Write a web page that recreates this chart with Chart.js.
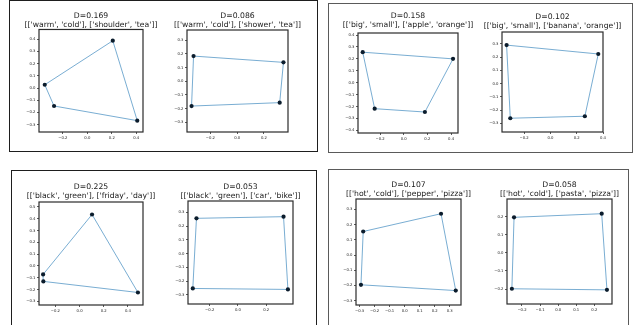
<!DOCTYPE html>
<html>
<head>
<meta charset="utf-8">
<script src="https://cdn.jsdelivr.net/npm/chart.js@4.4.0/dist/chart.umd.min.js"></script>
<style>
  html, body { margin: 0; padding: 0; background: #fff; }
  body { position: relative; width: 635px; height: 325px; overflow: hidden; }
  .box { position: absolute; box-sizing: border-box; border: 1.5px solid #1e1e1e; }
  .box.grey { border-color: #5a5a5a; }
  canvas { position: absolute; }
</style>
</head>
<body>
<div class="box" style="left:9px;top:0px;width:309px;height:152px"></div>
<div class="box grey" style="left:328px;top:3px;width:305px;height:150px"></div>
<div class="box" style="left:11px;top:170px;width:306px;height:170px"></div>
<div class="box grey" style="left:328px;top:169px;width:301px;height:170px"></div>
<script>
// titles
const dLabels = ['D=0.169', 'D=0.086', 'D=0.158', 'D=0.102', 'D=0.225', 'D=0.053', 'D=0.107', 'D=0.058'];
const wordSets = [
    "[['warm', 'cold'], ['shoulder', 'tea']]",
    "[['warm', 'cold'], ['shower', 'tea']]",
    "[['big', 'small'], ['apple', 'orange']]",
    "[['big', 'small'], ['banana', 'orange']]",
    "[['black', 'green'], ['friday', 'day']]",
    "[['black', 'green'], ['car', 'bike']]",
    "[['hot', 'cold'], ['pepper', 'pizza']]",
    "[['hot', 'cold'], ['pasta', 'pizza']]"
];

// points, in the order the polygon is drawn
const warmShoulderX = [0.208, 0.408, -0.272, -0.348];
const warmShoulderY = [0.388, -0.267, -0.147, 0.027];
const warmShowerX = [-0.326, 0.346, 0.318, -0.341];
const warmShowerY = [0.184, 0.138, -0.157, -0.182];
const bigAppleX = [-0.347, 0.417, 0.179, -0.246];
const bigAppleY = [0.256, 0.200, -0.246, -0.218];
const bigBananaX = [-0.333, 0.364, 0.262, -0.305];
const bigBananaY = [0.291, 0.224, -0.246, -0.261];
const blackFridayX = [0.103, 0.483, -0.300, -0.302];
const blackFridayY = [0.436, -0.225, -0.131, -0.072];
const blackCarX = [-0.294, 0.323, 0.354, -0.320];
const blackCarY = [0.256, 0.268, -0.261, -0.254];
const hotPepperX = [-0.276, 0.242, 0.340, -0.291];
const hotPepperY = [0.155, 0.272, -0.234, -0.196];
const hotPastaX = [-0.244, 0.241, 0.270, -0.256];
const hotPastaY = [0.196, 0.216, -0.204, -0.198];

// axis ranges and tick steps
const xRanges = [[-0.395, 0.455], [-0.375, 0.38], [-0.387, 0.459], [-0.368, 0.40],
                 [-0.336, 0.525], [-0.354, 0.39], [-0.324, 0.375], [-0.283, 0.298]];
const yRanges = [[-0.36, 0.48], [-0.372, 0.375], [-0.422, 0.417], [-0.365, 0.39],
                 [-0.331, 0.542], [-0.367, 0.382], [-0.329, 0.369], [-0.282, 0.297]];
const xSteps = [0.2, 0.2, 0.2, 0.2, 0.2, 0.2, 0.1, 0.1];
const ySteps = [0.1, 0.1, 0.1, 0.1, 0.1, 0.1, 0.1, 0.1];

const xSeries = [warmShoulderX, warmShowerX, bigAppleX, bigBananaX, blackFridayX, blackCarX, hotPepperX, hotPastaX];
const ySeries = [warmShoulderY, warmShowerY, bigAppleY, bigBananaY, blackFridayY, blackCarY, hotPepperY, hotPastaY];

// layout: axes frame [left, top, right, bottom] and top of the title
const frames = [
    [39, 29, 143, 132], [187, 30, 288, 132], [358, 33, 458, 133], [502, 32, 603, 132],
    [39, 202, 143, 305], [188, 201, 293, 304], [356, 199, 461, 305], [507, 199, 612, 304]
];
const titleTops = [11, 11, 11, 12, 182, 182, 180, 180];

const SIDE = 32, BOTTOM = 12;
const TITLE_SIZE = 7.7, TITLE_LH = 1.2;

const fmt = v => Math.abs(v) < 1e-9 ? '0.0' : (v < 0 ? '\u2212' : '') + Math.abs(v).toFixed(1);

const framePlugin = {
    id: 'frame',
    afterDraw(chart) {
        const { ctx, chartArea: a } = chart;
        ctx.save();
        ctx.strokeStyle = '#2b2b2b';
        ctx.lineWidth = 1.2;
        ctx.strokeRect(a.left, a.top, a.right - a.left, a.bottom - a.top);
        ctx.restore();
    }
};

function axisOpts(range, step, fit) {
    return {
        type: 'linear',
        min: range[0],
        max: range[1],
        afterFit: fit,
        grid: { display: true, drawOnChartArea: false, tickLength: 2, color: '#333', lineWidth: 0.8 },
        border: { display: false },
        ticks: {
            stepSize: step,
            includeBounds: false,
            autoSkip: false,
            maxRotation: 0,
            padding: 1.5,
            color: '#222',
            font: { family: 'DejaVu Sans', size: 3.8 },
            callback: fmt
        }
    };
}

frames.forEach((f, i) => {
    const [l, t, r, b] = f;
    const top = titleTops[i];
    const cv = document.createElement('canvas');
    cv.width = r - l + 2 * SIDE;
    cv.height = b - top + BOTTOM;
    cv.style.left = (l - SIDE) + 'px';
    cv.style.top = top + 'px';
    document.body.appendChild(cv);

    const xs = xSeries[i], ys = ySeries[i];
    const pts = xs.map((x, k) => ({ x: x, y: ys[k] }));

    new Chart(cv, {
        type: 'scatter',
        data: {
            datasets: [
                {
                    data: pts,
                    pointRadius: 2.1,
                    pointBackgroundColor: '#0b1c2c',
                    pointBorderWidth: 0,
                    order: 0
                },
                {
                    data: pts.concat([pts[0]]),
                    showLine: true,
                    borderColor: 'rgba(31,119,180,0.6)',
                    borderWidth: 1,
                    pointRadius: 0,
                    order: 1
                }
            ]
        },
        options: {
            responsive: false,
            animation: false,
            layout: { padding: 0 },
            plugins: {
                legend: { display: false },
                tooltip: { enabled: false },
                title: {
                    display: true,
                    text: [dLabels[i], wordSets[i]],
                    color: '#1a1a1a',
                    font: { family: 'DejaVu Sans', size: TITLE_SIZE, weight: 'normal', lineHeight: TITLE_LH },
                    padding: { top: 0, bottom: Math.max(0, t - top - 2 * TITLE_SIZE * TITLE_LH) }
                }
            },
            scales: {
                x: axisOpts(xRanges[i], xSteps[i], s => { s.height = BOTTOM; }),
                y: axisOpts(yRanges[i], ySteps[i], s => { s.width = SIDE; }),
                // empty right axis, keeps the plot centred under its title
                spacer: {
                    type: 'linear',
                    position: 'right',
                    min: 0,
                    max: 1,
                    grid: { display: false },
                    border: { display: false },
                    ticks: { display: false },
                    afterFit: s => { s.width = SIDE; }
                }
            }
        },
        plugins: [framePlugin]
    });
});
</script>
</body>
</html>
